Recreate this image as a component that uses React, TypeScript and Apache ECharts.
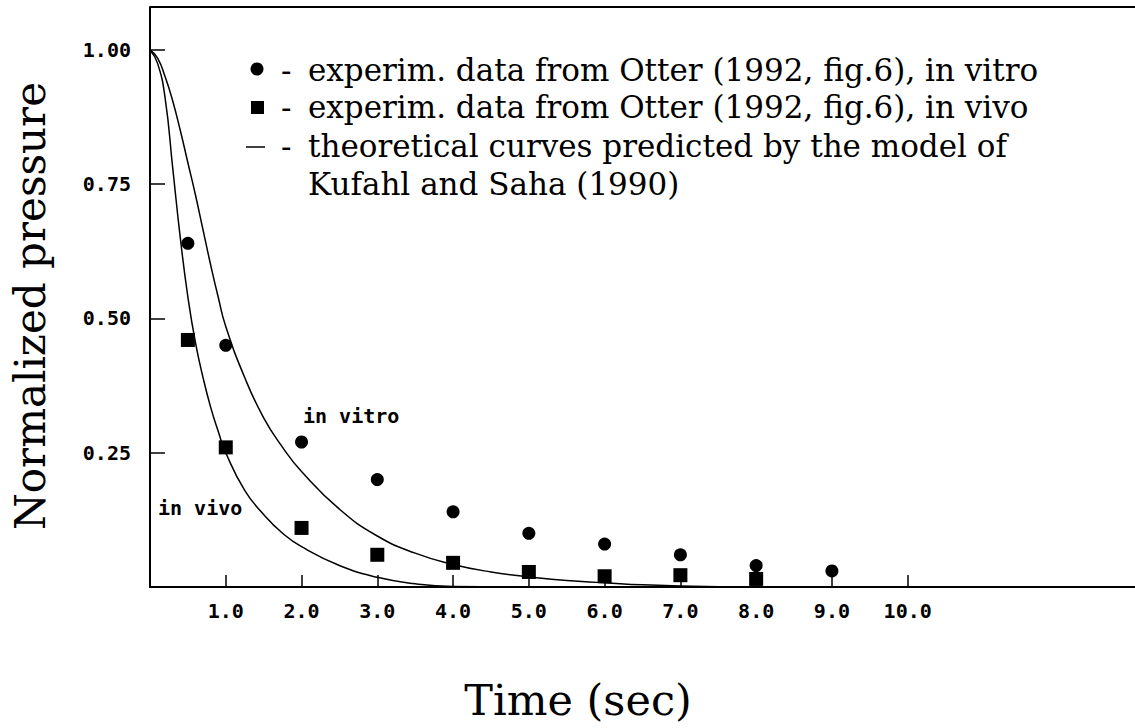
import React, { useEffect, useRef } from "react";
import * as echarts from "echarts";

// Experimental data (Otter 1992, fig. 6)
const vitroT = [0.5, 1, 2, 3, 4, 5, 6, 7, 8, 9];
const vitroP = [0.64, 0.45, 0.27, 0.2, 0.14, 0.1, 0.08, 0.06, 0.04, 0.03];
const vivoT = [0.5, 1, 2, 3, 4, 5, 6, 7, 8];
const vivoP = [0.46, 0.26, 0.11, 0.06, 0.045, 0.028, 0.02, 0.022, 0.015];

// Theoretical curves (Kufahl and Saha 1990)
const curveVitroT = [0, 0.1, 0.2, 0.3, 0.4, 0.5, 0.6, 0.7, 0.8, 0.9, 1.0, 1.25, 1.5, 1.75, 2.0, 2.5, 3.0, 3.5, 4.0, 4.5, 5.0, 5.5, 6.0, 6.5, 7.0, 8.0, 10.8];
const curveVitroP = [1.0, 0.985, 0.95, 0.905, 0.85, 0.79, 0.73, 0.665, 0.6, 0.54, 0.485, 0.39, 0.315, 0.26, 0.215, 0.145, 0.095, 0.063, 0.042, 0.028, 0.019, 0.012, 0.008, 0.004, 0.002, 0, 0];
const curveVivoT = [0, 0.1, 0.2, 0.3, 0.4, 0.5, 0.6, 0.7, 0.8, 0.9, 1.0, 1.25, 1.5, 1.75, 2.0, 2.5, 3.0, 3.5, 4.0, 5.0, 10.8];
const curveVivoP = [1.0, 0.975, 0.91, 0.78, 0.65, 0.54, 0.455, 0.39, 0.335, 0.29, 0.25, 0.18, 0.135, 0.1, 0.075, 0.04, 0.018, 0.006, 0.001, 0, 0];

const xTicks = [1, 2, 3, 4, 5, 6, 7, 8, 9, 10];
const yTicks = [0.25, 0.5, 0.75, 1.0];

const legendLines = [
  "experim. data from Otter (1992, fig.6), in vitro",
  "experim. data from Otter (1992, fig.6), in vivo",
  "theoretical curves predicted by the model of",
  "Kufahl and Saha (1990)",
];

const xTitle = "Time (sec)";
const yTitle = "Normalized pressure";

const zip = (a: number[], b: number[]) => a.map((v, i) => [v, b[i]]);

export default function App() {
  const ref = useRef<HTMLDivElement>(null);
  useEffect(() => {
    document.body.style.margin = "0";
    const chart = echarts.init(ref.current!, null, { renderer: "svg" });
    const serif = "DejaVu Serif";
    const mono = "DejaVu Sans Mono";
    const legendY = [70, 107, 146, 184];
    const txt = (s: string, x: number, y: number) => ({
      type: "text",
      x,
      y,
      style: { text: s, font: `31px '${serif}'`, fill: "#000", textVerticalAlign: "middle", textAlign: "left" },
    });
    chart.setOption({
      animation: false,
      backgroundColor: "#fff",
      grid: { left: 150, right: 0, top: 7, bottom: 141, show: false },
      xAxis: {
        type: "value",
        min: 0,
        max: 13,
        splitLine: { show: false },
        axisLine: { show: true, onZero: false, lineStyle: { color: "#000", width: 2 } },
        axisTick: { show: true, inside: true, length: 12, customValues: xTicks, lineStyle: { color: "#000", width: 1.5 } },
        axisLabel: {
          customValues: xTicks,
          formatter: (v: number) => v.toFixed(1),
          margin: 14,
          color: "#000",
          fontFamily: mono,
          fontWeight: "bold",
          fontSize: 20,
        },
      },
      yAxis: {
        type: "value",
        min: 0,
        max: 1.08,
        splitLine: { show: false },
        axisLine: { show: true, onZero: false, lineStyle: { color: "#000", width: 2 } },
        axisTick: { show: true, inside: true, length: 15, customValues: yTicks, lineStyle: { color: "#000", width: 1.5 } },
        axisLabel: {
          customValues: yTicks,
          formatter: (v: number) => v.toFixed(2),
          margin: 19,
          color: "#000",
          fontFamily: mono,
          fontWeight: "bold",
          fontSize: 20,
        },
      },
      series: [
        {
          type: "line",
          data: zip(curveVitroT, curveVitroP),
          smooth: 0.5,
          showSymbol: false,
          lineStyle: { color: "#000", width: 1.5 },
        },
        {
          type: "line",
          data: zip(curveVivoT, curveVivoP),
          smooth: 0.5,
          showSymbol: false,
          lineStyle: { color: "#000", width: 1.5 },
        },
        {
          type: "scatter",
          data: zip(vitroT, vitroP),
          symbol: "circle",
          symbolSize: 13,
          itemStyle: { color: "#000", opacity: 1 },
        },
        {
          type: "scatter",
          data: zip(vivoT, vivoP),
          symbol: "rect",
          symbolSize: 14,
          itemStyle: { color: "#000", opacity: 1 },
        },
      ],
      graphic: [
        { type: "line", shape: { x1: 150, y1: 7, x2: 1135, y2: 7 }, style: { stroke: "#000", lineWidth: 2 } },
        { type: "circle", shape: { cx: 257, cy: 69, r: 6.5 }, style: { fill: "#000" } },
        { type: "rect", shape: { x: 251, y: 101, width: 13, height: 13 }, style: { fill: "#000" } },
        { type: "line", shape: { x1: 246, y1: 147, x2: 265, y2: 147 }, style: { stroke: "#000", lineWidth: 1.5 } },
        txt("-", 281, legendY[0]),
        txt("-", 281, legendY[1]),
        txt("-", 281, legendY[2]),
        txt(legendLines[0], 308, legendY[0]),
        txt(legendLines[1], 308, legendY[1]),
        txt(legendLines[2], 308, legendY[2]),
        txt(legendLines[3], 308, legendY[3]),
        {
          type: "text",
          x: 303,
          y: 416,
          style: { text: "in vitro", font: `bold 20px '${mono}'`, fill: "#000", textVerticalAlign: "middle", textAlign: "left" },
        },
        {
          type: "text",
          x: 158,
          y: 508,
          style: { text: "in vivo", font: `bold 20px '${mono}'`, fill: "#000", textVerticalAlign: "middle", textAlign: "left" },
        },
        {
          type: "text",
          x: 578,
          y: 700,
          style: { text: xTitle, font: `43px '${serif}'`, fill: "#000", textVerticalAlign: "middle", textAlign: "center" },
        },
        {
          type: "text",
          x: 30,
          y: 306,
          rotation: Math.PI / 2,
          style: { text: yTitle, font: `42px '${serif}'`, fill: "#000", textVerticalAlign: "middle", textAlign: "center" },
        },
      ],
    });
    return () => chart.dispose();
  }, []);
  return <div ref={ref} style={{ width: 1135, height: 728, overflow: "hidden" }} />;
}
